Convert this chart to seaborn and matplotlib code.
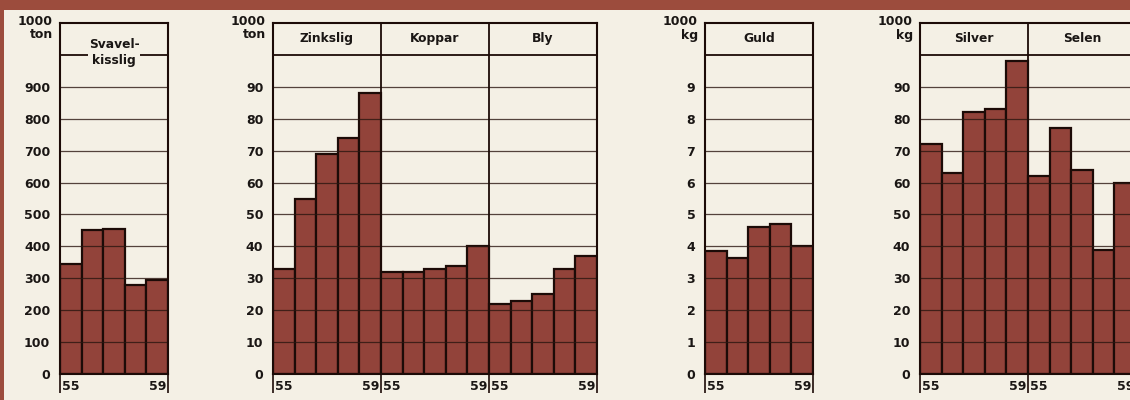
import matplotlib
matplotlib.use("Agg")
import matplotlib.pyplot as plt
from matplotlib.patches import Rectangle
import seaborn as sns
import pandas as pd

# ---- data ----
years = ["55", "56", "57", "58", "59"]
svavelkisslig = [345, 450, 455, 280, 295]
zinkslig = [33, 55, 69, 74, 88]
koppar = [32, 32, 33, 34, 40]
bly = [22, 23, 25, 33, 37]
guld = [3.85, 3.65, 4.6, 4.7, 4.0]
silver = [72, 63, 82, 83, 98]
selen = [62, 77, 64, 39, 60]

BG = "#f4f0e5"
BAR = "#92433a"
EDGE = "#1c0b07"
FRAME = "#9c4c3d"
INK = "#1a1614"

sns.set_theme(style="white")
plt.rcParams['font.family'] = ['DejaVu Sans']

W, H = 1130, 400
fig = plt.figure(figsize=(W / 100, H / 100), dpi=100, facecolor=BG)

# printed page frame (brown band at top, thin strip at left)
fig.patches.append(Rectangle((0, 1 - 10 / H), 1, 10 / H, transform=fig.transFigure,
                             facecolor=FRAME, edgecolor="none", zorder=0))
fig.patches.append(Rectangle((0, 0), 4 / W, 1, transform=fig.transFigure,
                             facecolor=FRAME, edgecolor="none", zorder=0))

panels = [
    dict(x0=60, groups=[("Svavel-\nkisslig", svavelkisslig)], step=100, unit="1000\nton"),
    dict(x0=273, groups=[("Zinkslig", zinkslig), ("Koppar", koppar), ("Bly", bly)],
         step=10, unit="1000\nton"),
    dict(x0=705, groups=[("Guld", guld)], step=1, unit="1000\nkg"),
    dict(x0=920, groups=[("Silver", silver), ("Selen", selen)], step=10, unit="1000\nkg"),
]

GW = 108          # pixel width of one 5-year group
Y0, YTOP = 374, 23  # pixel rows of value 0 and of the frame top

for p in panels:
    n = len(p["groups"])
    step = p["step"]
    ymax = 11 * step
    ax = fig.add_axes([p["x0"] / W, 1 - Y0 / H, n * GW / W, (Y0 - YTOP) / H])
    ax.set_facecolor(BG)

    rows = []
    for gi, (name, vals) in enumerate(p["groups"]):
        for yr, v in zip(years, vals):
            rows.append(dict(cat=f"{gi}-{yr}", group=name, year=yr, value=v))
    df = pd.DataFrame(rows)
    sns.barplot(data=df, x="cat", y="value", color=BAR, saturation=1, width=1.0,
                edgecolor=EDGE, linewidth=1.6, ax=ax, zorder=2)

    ax.set_xlim(-0.5, 5 * n - 0.5)
    ax.set_ylim(0, ymax)
    ax.set_xlabel("")
    ax.set_ylabel("")

    # horizontal rules
    for k in range(1, 10):
        ax.axhline(k * step, color="#2b1610", lw=0.9, alpha=0.8, zorder=3)
    ax.axhline(10 * step, color=EDGE, lw=1.3, zorder=4)

    # group dividers
    for k in range(1, n):
        ax.axvline(5 * k - 0.5, color=EDGE, lw=1.3, zorder=4)

    # headers
    for gi, (name, vals) in enumerate(p["groups"]):
        if "\n" in name:
            ax.text(5 * gi + 2, 10.07 * step, name, ha="center", va="center",
                    fontsize=8.8, fontweight="bold", color=INK, linespacing=1.25,
                    zorder=6, bbox=dict(facecolor=BG, edgecolor="none", pad=0.5))
        else:
            ax.text(5 * gi + 2, 10.5 * step, name, ha="center", va="center",
                    fontsize=8.8, fontweight="bold", color=INK, zorder=6)

    # y ticks
    yt = [k * step for k in range(10)]
    ax.set_yticks(yt)
    ax.set_yticklabels([str(v) for v in yt], fontsize=9, fontweight="bold", color=INK)
    ax.tick_params(axis="y", length=0, pad=7)

    # x ticks: year labels at first/last bar, boundary marks as minor ticks
    xt, xl = [], []
    for gi in range(n):
        xt += [5 * gi, 5 * gi + 4]
        xl += [years[0], years[-1]]
    ax.set_xticks(xt)
    ax.set_xticklabels(xl, fontsize=9, fontweight="bold", color=INK)
    ax.set_xticks([5 * k - 0.5 for k in range(n + 1)], minor=True)
    ax.tick_params(axis="x", which="major", length=0, pad=4)
    ax.tick_params(axis="x", which="minor", length=14, width=1.2, color=EDGE,
                   direction="out", bottom=True)

    for s in ax.spines.values():
        s.set_visible(True)
        s.set_color(EDGE)
        s.set_linewidth(1.5)
        s.set_zorder(5)

    # unit label
    fig.text((p["x0"] - 7) / W, 1 - 15 / H, p["unit"], ha="right", va="top",
             fontsize=9, fontweight="bold", color=INK, linespacing=1.05)

fig.savefig("out.png", dpi=100, facecolor=BG)
